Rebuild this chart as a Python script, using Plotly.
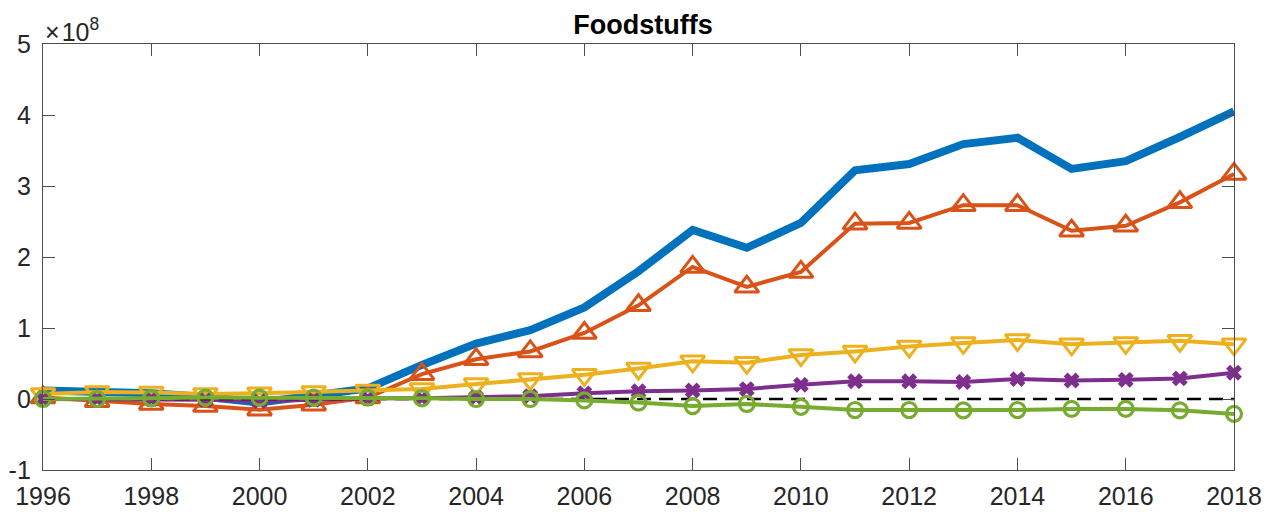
import plotly.graph_objects as go

years = list(range(1996, 2019))
# values in units of 1e8
total = [0.12, 0.10, 0.08, 0.03, -0.05, 0.05, 0.15, 0.48, 0.78, 0.97, 1.29, 1.80, 2.38, 2.13, 2.48,
         3.22, 3.31, 3.59, 3.68, 3.24, 3.35, 3.69, 4.05]
series_tri_up = [0.02, -0.03, -0.07, -0.10, -0.15, -0.08, 0.02, 0.35, 0.56, 0.67, 0.93, 1.32, 1.86, 1.58, 1.79,
                 2.47, 2.48, 2.73, 2.73, 2.37, 2.44, 2.77, 3.17]
series_tri_down = [0.07, 0.10, 0.09, 0.07, 0.08, 0.10, 0.12, 0.14, 0.21, 0.28, 0.34, 0.43, 0.53, 0.51, 0.62,
                   0.67, 0.74, 0.79, 0.83, 0.77, 0.79, 0.82, 0.77]
series_x = [0.00, 0.00, 0.00, -0.01, -0.03, -0.01, 0.01, 0.01, 0.02, 0.04, 0.08, 0.11, 0.12, 0.14, 0.20,
            0.25, 0.25, 0.24, 0.28, 0.26, 0.27, 0.29, 0.37]
series_circle = [0.00, 0.00, 0.01, 0.02, 0.02, 0.02, 0.02, 0.01, 0.00, 0.00, -0.02, -0.05, -0.10, -0.07, -0.11,
                 -0.155, -0.155, -0.16, -0.155, -0.14, -0.14, -0.16, -0.21]
zero_line = [0.0] * len(years)

x_ticks = list(range(1996, 2019, 2))
y_ticks = [-1, 0, 1, 2, 3, 4, 5]

FONT = "Liberation Sans, Arial, Helvetica, sans-serif"

fig = go.Figure()
fig.add_trace(go.Scatter(x=years, y=total, mode="lines",
                         line=dict(color="#0072BD", width=8), cliponaxis=False))
fig.add_trace(go.Scatter(x=years, y=series_tri_up, mode="lines+markers",
                         line=dict(color="#D95319", width=4),
                         marker=dict(symbol="triangle-up-open", size=21, color="#D95319",
                                     line=dict(width=3, color="#D95319")),
                         cliponaxis=False))
fig.add_trace(go.Scatter(x=years, y=series_tri_down, mode="lines+markers",
                         line=dict(color="#EDB120", width=4),
                         marker=dict(symbol="triangle-down-open", size=21, color="#EDB120",
                                     line=dict(width=3, color="#EDB120")),
                         cliponaxis=False))
fig.add_trace(go.Scatter(x=years, y=series_x, mode="lines+markers",
                         line=dict(color="#7E2F8E", width=4),
                         marker=dict(symbol="x", size=14, color="#7E2F8E", line=dict(width=0)),
                         cliponaxis=False))
fig.add_trace(go.Scatter(x=years, y=zero_line, mode="lines",
                         line=dict(color="black", width=2.5, dash="14px,8px"), cliponaxis=False))
fig.add_trace(go.Scatter(x=years, y=series_circle, mode="lines+markers",
                         line=dict(color="#77AC30", width=4),
                         marker=dict(symbol="circle-open", size=15, color="#77AC30",
                                     line=dict(width=3.2, color="#77AC30")),
                         cliponaxis=False))

axis_common = dict(showgrid=False, zeroline=False, showline=True, linecolor="#4d4d4d", linewidth=1.3,
                   mirror="allticks", ticks="inside", ticklen=12, tickwidth=1.2, tickcolor="#4d4d4d",
                   automargin=False,
                   tickfont=dict(family=FONT, size=25, color="#262626"))

# page body adds an 8px offset; figure sized/margined to compensate
fig.update_layout(
    width=1270, height=504,
    margin=dict(l=35, r=44, t=36, b=42),
    paper_bgcolor="white", plot_bgcolor="white",
    showlegend=False,
    title=dict(text="<b>Foodstuffs</b>", x=0.5, xanchor="center", y=0.967, yanchor="middle",
               font=dict(family=FONT, size=27, color="black")),
    xaxis=dict(range=[1996, 2018], tickvals=x_ticks, ticktext=[str(t) for t in x_ticks],
               ticklabelstandoff=4, **axis_common),
    yaxis=dict(range=[-1, 5], tickvals=y_ticks, ticktext=[str(t) for t in y_ticks], ticklabelstandoff=6,
               **axis_common),
)
fig.add_annotation(xref="paper", yref="paper", x=0.0, y=1.0, xanchor="left", yanchor="bottom",
                   yshift=-4, xshift=0, text="\u00d7\u200a10<sup>8</sup>", showarrow=False,
                   font=dict(family=FONT, size=25, color="#262626"))

fig.write_html("out.html")
